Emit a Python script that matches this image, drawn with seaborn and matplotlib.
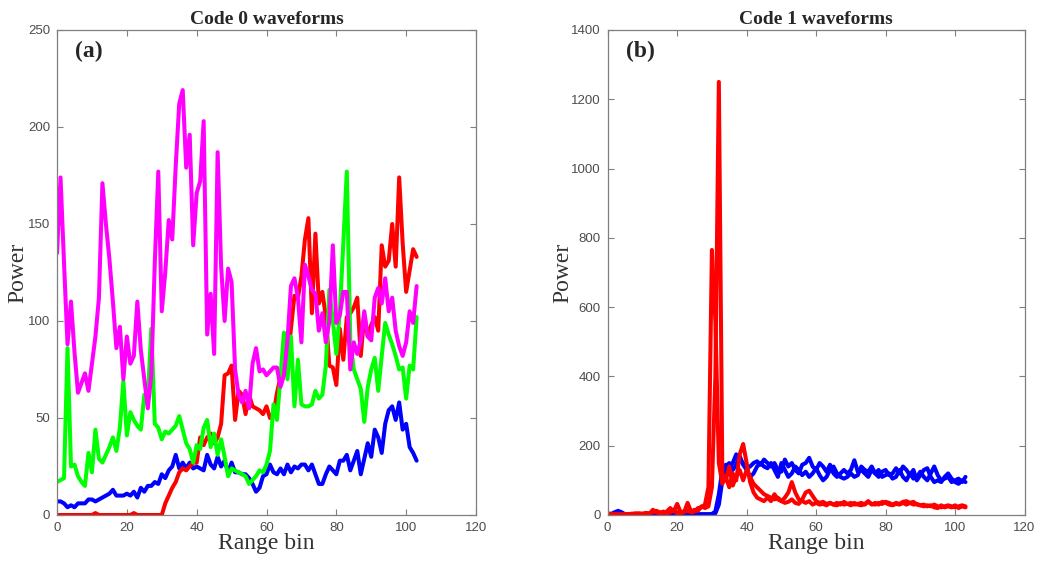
import numpy as np
import pandas as pd
import matplotlib
matplotlib.use("Agg")
import matplotlib.pyplot as plt
import seaborn as sns

# ---- Code 0 waveforms (panel a) ----
code0_blue = [7, 7, 6, 4, 5, 4, 6, 6, 6, 8, 8, 7, 8, 9, 10, 11, 13, 10, 10, 10,
              11, 10, 12, 9, 14, 12, 15, 15, 17, 16, 21, 19, 23, 25, 31, 24, 27, 24, 27, 24,
              25, 24, 23, 31, 26, 24, 30, 25, 28, 22, 27, 22, 22, 21, 21, 19, 16, 12, 14, 20,
              21, 26, 22, 21, 24, 21, 26, 22, 25, 24, 26, 26, 23, 26, 21, 16, 16, 21, 25, 23,
              21, 28, 28, 31, 23, 28, 33, 21, 29, 37, 30, 44, 40, 32, 47, 54, 56, 49, 58, 44,
              47, 35, 32, 28]
code0_red = [0, 0, 0, 0, 0, 0, 0, 0, 0, 0, 0, 1, 0, 0, 0, 0, 0, 0, 0, 0,
             0, 0, 1, 0, 0, 0, 0, 0, 0, 0, 0, 6, 10, 14, 17, 22, 24, 23, 25, 27,
             27, 40, 36, 40, 42, 37, 40, 47, 72, 73, 77, 49, 64, 62, 52, 62, 56, 55, 54, 52,
             56, 50, 52, 63, 71, 73, 80, 96, 113, 112, 123, 142, 153, 104, 145, 109, 115, 102, 77, 76,
             67, 96, 80, 102, 104, 107, 112, 82, 103, 92, 98, 102, 95, 139, 128, 131, 150, 128, 174, 140,
             115, 126, 137, 133]
code0_green = [17, 18, 19, 86, 25, 26, 20, 17, 15, 32, 22, 44, 29, 27, 31, 35, 40, 33, 45, 69,
               41, 53, 49, 46, 44, 62, 60, 96, 47, 45, 39, 43, 42, 44, 46, 51, 44, 37, 34, 27,
               36, 34, 45, 49, 35, 42, 31, 39, 30, 20, 24, 23, 22, 21, 20, 16, 18, 20, 23, 22,
               26, 33, 57, 49, 71, 94, 70, 92, 56, 80, 57, 56, 56, 57, 64, 60, 62, 77, 116, 100,
               83, 105, 140, 177, 90, 75, 70, 65, 48, 66, 75, 81, 64, 82, 99, 93, 88, 82, 75, 76,
               60, 77, 75, 102]
code0_magenta = [135, 174, 130, 88, 110, 84, 63, 68, 73, 64, 78, 92, 112, 171, 150, 132, 110, 86, 97, 70,
                 92, 78, 82, 110, 85, 70, 55, 72, 130, 177, 105, 125, 152, 142, 180, 212, 219, 179, 196, 139,
                 166, 172, 203, 93, 114, 83, 187, 128, 100, 127, 120, 75, 62, 58, 64, 55, 78, 86, 74, 75,
                 72, 74, 76, 76, 66, 72, 90, 118, 122, 112, 89, 129, 123, 116, 114, 95, 104, 89, 100, 139,
                 99, 103, 115, 115, 75, 89, 83, 90, 105, 92, 90, 112, 117, 109, 122, 105, 112, 95, 87, 82,
                 89, 105, 99, 118]

# ---- Code 1 waveforms (panel b) ----
code1_blue_1 = [3, 3, 8, 12, 8, 2, 2, 2, 2, 2, 2, 2, 2, 2, 2, 2, 2, 2, 2, 2,
                2, 2, 2, 2, 2, 2, 2, 2, 2, 2, 3, 10, 60, 130, 145, 140, 150, 175, 160, 150,
                135, 140, 150, 155, 145, 160, 150, 140, 150, 130, 125, 160, 140, 150, 130, 120, 145, 150, 165, 140,
                130, 150, 140, 125, 145, 120, 110, 120, 130, 120, 130, 158, 125, 130, 120, 110, 130, 120, 130, 110,
                115, 120, 105, 110, 130, 110, 100, 120, 105, 110, 125, 110, 100, 120, 140, 115, 100, 105, 110, 95,
                100, 105, 95, 110]
code1_blue_2 = [2, 2, 2, 2, 2, 2, 2, 2, 2, 2, 2, 2, 2, 2, 2, 2, 2, 2, 2, 2,
                2, 2, 2, 2, 2, 2, 2, 2, 2, 2, 2, 5, 30, 100, 140, 150, 130, 145, 170, 145,
                130, 110, 120, 140, 150, 140, 135, 150, 130, 110, 150, 130, 110, 120, 140, 130, 115, 125, 110, 120,
                135, 115, 100, 110, 130, 140, 120, 110, 105, 110, 120, 110, 115, 140, 130, 125, 140, 120, 110, 125,
                130, 115, 120, 135, 120, 140, 130, 115, 130, 100, 115, 130, 135, 110, 95, 100, 95, 110, 120, 105,
                95, 90, 100, 95]
code1_red_1 = [5, 3, 2, 0, 2, 3, 2, 4, 3, 5, 4, 6, 5, 8, 12, 8, 6, 10, 20, 10,
               32, 8, 10, 12, 8, 10, 20, 22, 30, 80, 765, 560, 150, 90, 110, 80, 120, 100, 175, 205,
               150, 95, 65, 50, 45, 40, 50, 40, 60, 45, 40, 50, 65, 95, 65, 45, 40, 35, 40, 30,
               35, 30, 32, 28, 35, 30, 28, 35, 30, 32, 28, 35, 30, 28, 32, 40, 30, 35, 30, 38,
               35, 30, 28, 32, 30, 35, 30, 35, 38, 30, 28, 30, 25, 28, 22, 20, 28, 22, 25, 22,
               28, 20, 25, 22]
code1_red_2 = [2, 0, 2, 3, 1, 2, 3, 2, 5, 3, 2, 4, 3, 15, 8, 5, 10, 5, 8, 15,
               5, 6, 8, 35, 10, 15, 12, 25, 20, 25, 80, 400, 1250, 120, 100, 140, 85, 110, 130, 100,
               130, 110, 90, 80, 70, 60, 55, 50, 45, 50, 40, 35, 38, 45, 35, 32, 45, 65, 70, 55,
               40, 35, 38, 32, 35, 30, 35, 30, 38, 32, 35, 30, 32, 35, 30, 38, 32, 30, 35, 32,
               38, 35, 30, 35, 32, 38, 40, 35, 30, 32, 28, 25, 28, 25, 30, 25, 22, 25, 28, 25,
               22, 25, 28, 25]

x_ticks = [0, 20, 40, 60, 80, 100, 120]
y_ticks_a = [0, 50, 100, 150, 200, 250]
y_ticks_b = [0, 200, 400, 600, 800, 1000, 1200, 1400]


def long_form(series):
    frames = []
    for name, values in series.items():
        frames.append(pd.DataFrame({"bin": np.arange(len(values)),
                                    "power": values, "trace": name}))
    return pd.concat(frames, ignore_index=True)


sns.set_theme(style="white")
plt.rcParams["font.family"] = ["Liberation Sans", "DejaVu Sans"]

df_a = long_form({"blue": code0_blue, "red": code0_red,
                  "green": code0_green, "magenta": code0_magenta})
df_b = long_form({"blue1": code1_blue_1, "blue2": code1_blue_2,
                  "red1": code1_red_1, "red2": code1_red_2})

pal_a = {"blue": "#0000ff", "red": "#ff0000", "green": "#00ff00", "magenta": "#ff00ff"}
pal_b = {"blue1": "#0000ff", "blue2": "#0000ff", "red1": "#ff0000", "red2": "#ff0000"}

fig = plt.figure(figsize=(10.37, 5.65), dpi=100)
ax_a = fig.add_axes([0.055, 0.0885, 0.404, 0.8585])
ax_b = fig.add_axes([0.586, 0.0885, 0.402, 0.8585])

sns.lineplot(data=df_a, x="bin", y="power", hue="trace", palette=pal_a,
             hue_order=["blue", "red", "green", "magenta"],
             estimator=None, linewidth=2.9, legend=False, ax=ax_a)
sns.lineplot(data=df_b, x="bin", y="power", hue="trace", palette=pal_b,
             hue_order=["blue1", "blue2", "red1", "red2"],
             estimator=None, linewidth=2.9, legend=False, ax=ax_b)

serif = ["Liberation Serif", "DejaVu Serif"]
panels = [(ax_a, "Code 0 waveforms", "(a)", y_ticks_a, -0.069),
          (ax_b, "Code 1 waveforms", "(b)", y_ticks_b, -0.082)]
for ax, title, tag, yt, ylab_x in panels:
    ax.set_xlim(x_ticks[0], x_ticks[-1])
    ax.set_ylim(yt[0], yt[-1])
    ax.set_xticks(x_ticks)
    ax.set_yticks(yt)
    ax.tick_params(direction="in", length=4, width=0.8, color="#7f7f7f",
                   labelcolor="#4d4d4d", labelsize=9.5, top=True, right=True,
                   bottom=True, left=True, pad=5)
    for s in ax.spines.values():
        s.set_visible(True)
        s.set_color("#7f7f7f")
        s.set_linewidth(0.9)
    ax.set_title(title, fontsize=14, fontweight="bold", family=serif, pad=4)
    ax.set_xlabel("Range bin", fontsize=17, family=serif, color="#333333")
    ax.set_ylabel("Power", fontsize=17, family=serif, color="#333333")
    ax.xaxis.set_label_coords(0.5, -0.038)
    ax.yaxis.set_label_coords(ylab_x, 0.5)
    ax.text(0.043, 0.955, tag, transform=ax.transAxes, ha="left", va="center",
            fontsize=17, fontweight="bold", family=serif)

fig.savefig("out.png", dpi=100)
